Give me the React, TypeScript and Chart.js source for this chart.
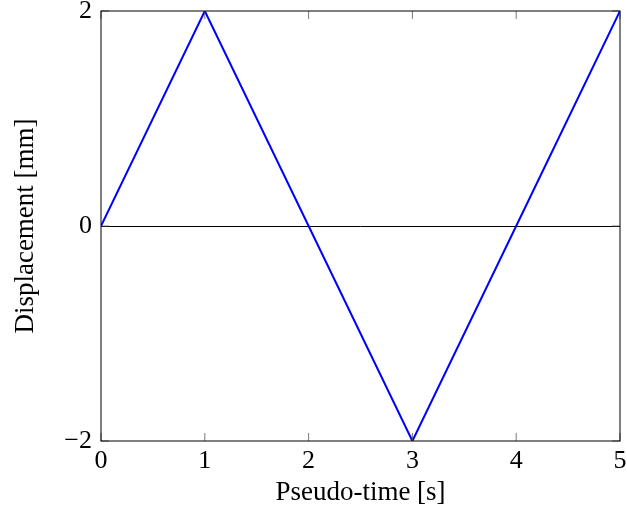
import React, { useEffect, useRef } from "react";
import { Chart, registerables } from "chart.js";

Chart.register(...registerables);

// Triangular displacement history over pseudo-time
const times: number[] = [0, 1, 2, 3, 4, 5];
const displacement: number[] = [0, 2, 0, -2, 0, 2];
const xTicks: number[] = [0, 1, 2, 3, 4, 5];
const yTicks: number[] = [-2, 0, 2];

const FONT = "'Liberation Serif', 'Times New Roman', serif";

// Frame around the plot area plus small inward tick marks on all sides
const framePlugin = {
  id: "frameTicks",
  afterDatasetsDraw(chart: any) {
    const { ctx, chartArea, scales } = chart;
    const { left, right, top, bottom } = chartArea;
    const len = 8;
    ctx.save();
    ctx.strokeStyle = "#555";
    ctx.lineWidth = 0.8;
    ctx.beginPath();
    for (const v of xTicks) {
      const x = scales.x.getPixelForValue(v);
      ctx.moveTo(x, bottom);
      ctx.lineTo(x, bottom - len);
      ctx.moveTo(x, top);
      ctx.lineTo(x, top + len);
    }
    for (const v of yTicks) {
      const y = scales.y.getPixelForValue(v);
      ctx.moveTo(left, y);
      ctx.lineTo(left + len, y);
      ctx.moveTo(right, y);
      ctx.lineTo(right - len, y);
    }
    ctx.stroke();
    ctx.strokeStyle = "#000";
    ctx.lineWidth = 1;
    ctx.strokeRect(left, top, right - left, bottom - top);
    ctx.restore();
  },
};

export default function App() {
  const canvasRef = useRef<HTMLCanvasElement | null>(null);

  useEffect(() => {
    if (!canvasRef.current) return;
    const chart = new Chart(canvasRef.current, {
      type: "line",
      data: {
        datasets: [
          {
            data: times.map((t, i) => ({ x: t, y: displacement[i] })),
            borderColor: "#0000ff",
            borderWidth: 2,
            pointRadius: 0,
            tension: 0,
            fill: false,
          },
        ],
      },
      options: {
        animation: false,
        responsive: true,
        maintainAspectRatio: false,
        layout: { padding: { top: 11, right: 7, bottom: 0, left: 0 } },
        plugins: {
          legend: { display: false },
          tooltip: { enabled: false },
        },
        scales: {
          x: {
            type: "linear",
            min: 0,
            max: 5,
            afterFit: (s: any) => {
              s.height = 76;
              s.paddingLeft = 0;
              s.paddingRight = 0;
            },
            afterBuildTicks: (s: any) => {
              s.ticks = xTicks.map((v) => ({ value: v }));
            },
            grid: { display: false, drawTicks: false },
            border: { display: false },
            ticks: {
              padding: 10,
              color: "#000",
              maxRotation: 0,
              font: { family: FONT, size: 26, lineHeight: 0.8 },
            },
            title: {
              display: true,
              text: "Pseudo-time [s]",
              color: "#000",
              padding: { top: 0, bottom: 8 },
              font: { family: FONT, size: 27 },
            },
          },
          y: {
            type: "linear",
            min: -2,
            max: 2,
            afterFit: (s: any) => {
              s.width = 101;
              s.paddingTop = 0;
              s.paddingBottom = 0;
            },
            afterBuildTicks: (s: any) => {
              s.ticks = yTicks.map((v) => ({ value: v }));
            },
            grid: {
              drawTicks: false,
              color: (c: any) => (c.tick && c.tick.value === 0 ? "#000" : "rgba(0,0,0,0)"),
              lineWidth: 1,
            },
            border: { display: false },
            ticks: {
              padding: 9,
              color: "#000",
              font: { family: FONT, size: 26, lineHeight: 0.8 },
              callback: (v: any) => (v < 0 ? "\u2212" + Math.abs(v) : String(v)),
            },
            title: {
              display: true,
              text: "Displacement [mm]",
              color: "#000",
              padding: { top: 10, bottom: 0 },
              font: { family: FONT, size: 27 },
            },
          },
        },
      },
      plugins: [framePlugin],
    });
    return () => chart.destroy();
  }, []);

  return (
    <div style={{ position: "fixed", left: 0, top: 0, width: 627, height: 517, background: "#fff" }}>
      <canvas ref={canvasRef} />
    </div>
  );
}
